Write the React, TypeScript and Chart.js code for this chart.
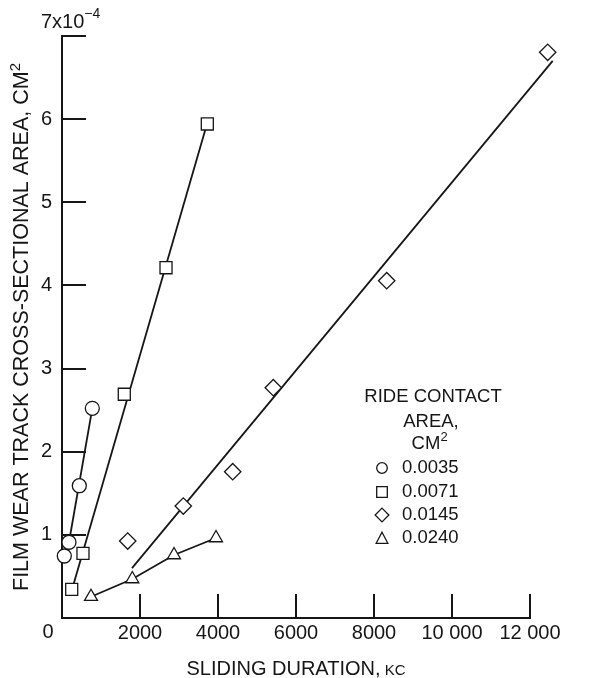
import React, { useEffect, useRef } from 'react';
import { Chart, registerables } from 'chart.js';

Chart.register(...registerables);

// ---- data ----
const xTicks = [0, 2000, 4000, 6000, 8000, 10000, 12000];
const xTickLabels = ['0', '2000', '4000', '6000', '8000', '10 000', '12 000'];
const yTicks = [0, 1, 2, 3, 4, 5, 6, 7];
const yTickLabels = ['0', '1', '2', '3', '4', '5', '6', '7'];

const seriesNames = ['0.0035', '0.0071', '0.0145', '0.0240'];

const circleX = [59, 179, 444, 777];
const circleY = [0.746, 0.911, 1.591, 2.522];
const squareX = [249, 538, 1597, 2667, 3726];
const squareY = [0.345, 0.778, 2.691, 4.213, 5.942];
const diamondX = [1685, 3110, 4377, 5418, 8326, 12454];
const diamondY = [0.926, 1.347, 1.76, 2.77, 4.057, 6.804];
const triangleX = [744, 1803, 2872, 3949];
const triangleY = [0.256, 0.469, 0.758, 0.962];

// fitted lines (endpoints)
const circleFitX = [179, 777];
const circleFitY = [0.911, 2.522];
const squareFitX = [250, 3680];
const squareFitY = [0.33, 5.88];
const diamondFitX = [1795, 12582];
const diamondFitY = [0.6, 6.7];

const FONT = "'Liberation Sans', Arial, Helvetica, sans-serif";
const INK = '#161616';

const pts = (xs: number[], ys: number[]) => xs.map((x, i) => ({ x, y: ys[i] }));

function drawMarker(ctx: CanvasRenderingContext2D, style: string, x: number, y: number, r: number) {
  ctx.beginPath();
  if (style === 'circle') {
    ctx.arc(x, y, r, 0, Math.PI * 2);
  } else if (style === 'rect') {
    ctx.rect(x - r, y - r, 2 * r, 2 * r);
  } else if (style === 'rectRot') {
    ctx.moveTo(x, y - r * 1.3);
    ctx.lineTo(x + r * 1.3, y);
    ctx.lineTo(x, y + r * 1.3);
    ctx.lineTo(x - r * 1.3, y);
    ctx.closePath();
  } else {
    const h = r * 2;
    ctx.moveTo(x, y - h / 2 - 0.5);
    ctx.lineTo(x + r * 1.1, y + h / 2);
    ctx.lineTo(x - r * 1.1, y + h / 2);
    ctx.closePath();
  }
  ctx.fillStyle = '#fff';
  ctx.fill();
  ctx.stroke();
}

const decorPlugin = {
  id: 'decor',
  afterDraw(chart: any) {
    const ctx: CanvasRenderingContext2D = chart.ctx;
    const xs = chart.scales.x;
    const ys = chart.scales.y;
    const area = chart.chartArea;
    ctx.save();
    ctx.strokeStyle = INK;
    ctx.fillStyle = INK;
    ctx.lineWidth = 2;
    // inward tick marks
    xTicks.forEach((v) => {
      if (v === 0) return;
      const px = Math.round(xs.getPixelForValue(v));
      ctx.beginPath();
      ctx.moveTo(px, area.bottom);
      ctx.lineTo(px, area.bottom - 24);
      ctx.stroke();
    });
    yTicks.forEach((v) => {
      if (v === 0) return;
      const py = Math.round(ys.getPixelForValue(v));
      ctx.beginPath();
      ctx.moveTo(area.left, py);
      ctx.lineTo(area.left + 24, py);
      ctx.stroke();
    });

    // origin label "0"
    ctx.textBaseline = 'middle';
    ctx.textAlign = 'center';
    ctx.font = `20px ${FONT}`;
    ctx.fillText(xTickLabels[0], area.left - 14, area.bottom + 14);

    // top label 7x10^-4
    const topY = ys.getPixelForValue(7);
    ctx.textAlign = 'left';
    ctx.font = `20px ${FONT}`;
    const base = yTickLabels[7] + 'x10';
    ctx.fillText(base, 41, topY - 14);
    const bw = ctx.measureText(base).width;
    ctx.font = `14px ${FONT}`;
    ctx.fillText('\u2212' + '4', 41 + bw, topY - 22);

    // x title
    ctx.font = `20px ${FONT}`;
    const t1 = 'SLIDING DURATION,';
    const w1 = ctx.measureText(t1).width;
    ctx.font = `15px ${FONT}`;
    const t2 = ' KC';
    const w2 = ctx.measureText(t2).width;
    const cx = (area.left + area.right) / 2;
    const startX = cx - (w1 + w2) / 2;
    ctx.textBaseline = 'alphabetic';
    ctx.font = `20px ${FONT}`;
    ctx.fillText(t1, startX, 675);
    ctx.font = `15px ${FONT}`;
    ctx.fillText(t2, startX + w1, 675);

    // y title
    ctx.save();
    ctx.translate(28, (area.top + area.bottom) / 2);
    ctx.rotate(-Math.PI / 2);
    ctx.textAlign = 'left';
    ctx.font = `21.5px ${FONT}`;
    const yt = 'FILM WEAR TRACK CROSS-SECTIONAL AREA, CM';
    const ytw = ctx.measureText(yt).width;
    ctx.font = `15px ${FONT}`;
    const sw = ctx.measureText('2').width;
    const ys0 = -(ytw + sw) / 2;
    ctx.font = `21.5px ${FONT}`;
    ctx.fillText(yt, ys0, 0);
    ctx.font = `15px ${FONT}`;
    ctx.fillText('2', ys0 + ytw, -8);
    ctx.restore();

    // legend
    ctx.textBaseline = 'alphabetic';
    ctx.textAlign = 'center';
    ctx.font = `18.5px ${FONT}`;
    ctx.fillText('RIDE CONTACT', 433, 402);
    ctx.fillText('AREA,', 431, 427);
    const cmw = ctx.measureText('CM').width;
    ctx.textAlign = 'left';
    ctx.fillText('CM', 426 - cmw / 2, 449);
    ctx.font = `13px ${FONT}`;
    ctx.fillText('2', 426 + cmw / 2, 441);
    const styles = ['circle', 'rect', 'rectRot', 'triangle'];
    const rows = [468, 492, 515, 538];
    ctx.lineWidth = 1.3;
    seriesNames.forEach((name, i) => {
      ctx.strokeStyle = INK;
      drawMarker(ctx, styles[i], 382, rows[i], 5.3);
      ctx.fillStyle = INK;
      ctx.font = `18.5px ${FONT}`;
      ctx.textBaseline = 'middle';
      ctx.textAlign = 'left';
      ctx.fillText(name, 402, rows[i]);
    });
    ctx.restore();
  },
};

const lineDs = (xs: number[], ys: number[]) => ({
  data: pts(xs, ys),
  showLine: true,
  pointRadius: 0,
  pointHoverRadius: 0,
  borderColor: INK,
  borderWidth: 1.8,
  order: 2,
  clip: false as any,
});

const pointDs = (xs: number[], ys: number[], style: string, r: number, label: string) => ({
  label,
  data: pts(xs, ys),
  showLine: false,
  pointStyle: style,
  pointRadius: r,
  // large hover radius only widens the in-area margin so markers just past the axis end are still drawn
  pointHoverRadius: 24,
  pointBackgroundColor: '#fff',
  pointBorderColor: INK,
  pointBorderWidth: 1.3,
  order: 1,
  clip: false as any,
});

export default function App() {
  const ref = useRef<HTMLCanvasElement>(null);
  useEffect(() => {
    document.body.style.margin = '0';
    const canvas = ref.current!;
    const chart = new Chart(canvas, {
      type: 'scatter',
      data: {
        datasets: [
          lineDs(circleFitX, circleFitY),
          lineDs(squareFitX, squareFitY),
          lineDs(diamondFitX, diamondFitY),
          {
            ...pointDs(triangleX, triangleY, 'triangle', 7.5, seriesNames[3]),
            showLine: true,
            borderColor: INK,
            borderWidth: 1.8,
          },
          pointDs(circleX, circleY, 'circle', 7, seriesNames[0]),
          pointDs(squareX, squareY, 'rect', 8.5, seriesNames[1]),
          pointDs(diamondX, diamondY, 'rectRot', 8.2, seriesNames[2]),
        ] as any,
      },
      options: {
        responsive: false,
        animation: false,
        events: [],
        layout: { padding: { top: 36, right: 64, left: 0, bottom: 0 } },
        plugins: { legend: { display: false }, tooltip: { enabled: false } },
        scales: {
          x: {
            type: 'linear',
            min: 0,
            max: 12000,
            afterFit: (s: any) => {
              s.height = 60;
            },
            afterBuildTicks: (s: any) => {
              s.ticks = xTicks.map((v) => ({ value: v }));
            },
            grid: { display: false, drawTicks: false },
            border: { display: true, color: INK, width: 2 },
            ticks: {
              autoSkip: false,
              maxRotation: 0,
              padding: 3,
              color: INK,
              font: { family: FONT, size: 20 },
              callback: (v: any) => {
                const i = xTicks.indexOf(Number(v));
                return i <= 0 ? '' : xTickLabels[i];
              },
            },
          },
          y: {
            type: 'linear',
            min: 0,
            max: 7,
            afterFit: (s: any) => {
              s.width = 62;
            },
            afterBuildTicks: (s: any) => {
              s.ticks = yTicks.map((v) => ({ value: v }));
            },
            grid: { display: false, drawTicks: false },
            border: { display: true, color: INK, width: 2 },
            ticks: {
              autoSkip: false,
              padding: 10,
              color: INK,
              font: { family: FONT, size: 20 },
              callback: (v: any) => {
                const i = yTicks.indexOf(Number(v));
                return i <= 0 || i >= 7 ? '' : yTickLabels[i];
              },
            },
          },
        },
      } as any,
      plugins: [decorPlugin],
    });
    return () => chart.destroy();
  }, []);
  return (
    <div style={{ width: 594, height: 678, position: 'relative' }}>
      <canvas ref={ref} width={594} height={678} style={{ display: 'block' }} />
    </div>
  );
}
